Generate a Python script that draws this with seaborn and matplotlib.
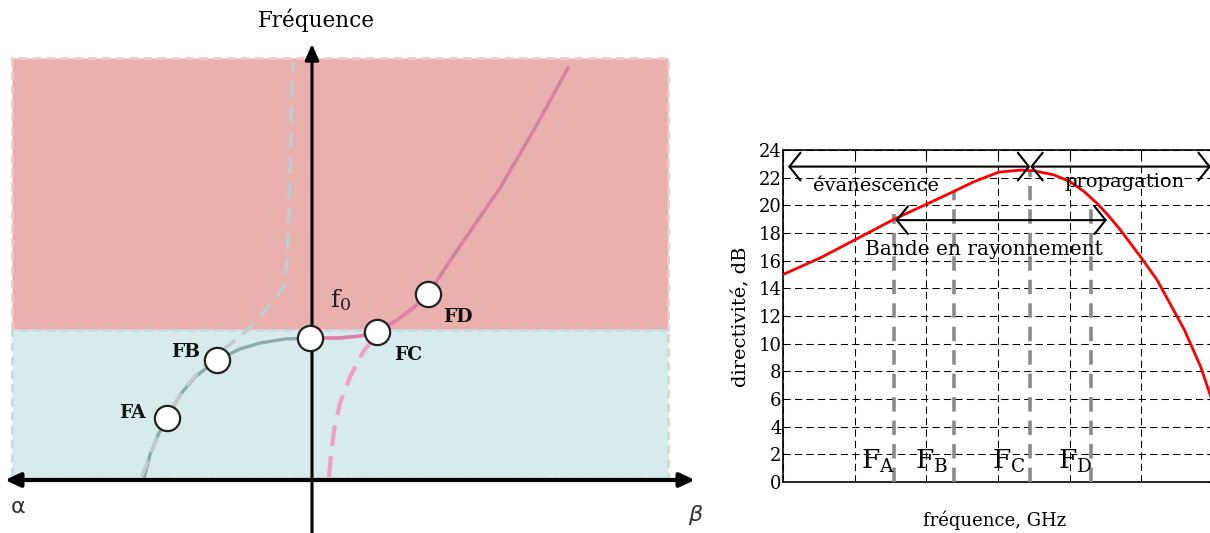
import numpy as np
import pandas as pd
import matplotlib
matplotlib.use("Agg")
import matplotlib.pyplot as plt
from matplotlib.patches import Rectangle
import seaborn as sns

# ---------------- data: dispersion diagram (left) ----------------
# coordinates: horizontal = beta (right) / alpha (left), vertical = frequency
rad_curve_x = [-168, -162, -154, -145, -132, -117, -95, -72, -52, -27, -2]
rad_curve_y = [2, 25, 45, 62, 85, 103, 120, 131, 137, 141, 142]
prop_curve_x = [-2, 28, 48, 65, 85, 101, 116, 148, 188, 223, 256]
prop_curve_y = [142, 142, 144, 148, 160, 172, 186, 234, 292, 352, 412]
alpha_dash_x = [-170, -162, -152, -140, -127, -112, -92, -75, -56, -40, -29, -25, -24, -22, -21, -19]
alpha_dash_y = [4, 25, 48, 72, 92, 110, 128, 141, 158, 178, 192, 218, 243, 300, 360, 418]
beta_dash_x = [17, 19, 22, 28, 38, 51, 63, 78, 93, 106, 118]
beta_dash_y = [3, 25, 50, 77, 103, 128, 143, 154, 164, 176, 188]
point_names = ["FA", "FB", "f0", "FC", "FD"]
point_x = [-145, -95, -2, 65, 116]
point_y = [62, 120, 142, 148, 186]
f0_level = 150
band_top = 422

# ---------------- data: directivity vs frequency (right) ----------------
freq = [0, 0.52, 1.0, 1.57, 2.01, 2.38, 2.66, 3.01, 3.32, 3.5, 3.78, 4.01,
        4.2, 4.39, 4.55, 4.71, 5.0, 5.22, 5.6, 5.83, 5.97]
directivity = [15.0, 16.2, 17.5, 19.05, 20.1, 21.0, 21.7, 22.4, 22.55, 22.5,
               22.2, 21.7, 21.0, 20.1, 19.2, 18.2, 16.2, 14.6, 11.0, 8.3, 6.15]
marker_freqs = [1.546, 2.385, 3.447, 4.294]
marker_tops = [19.4, 21.0, 22.45, 19.8]
marker_labels = ["A", "B", "C", "D"]
marker_label_x = [1.32, 2.07, 3.15, 4.07]
y_ticks = list(range(0, 25, 2))

sns.set_theme(style="white")
plt.rcParams["font.family"] = ["DejaVu Serif"]
plt.rcParams["mathtext.fontset"] = "dejavuserif"
plt.rcParams["text.color"] = "black"
plt.rcParams["xtick.color"] = "black"
plt.rcParams["ytick.color"] = "black"

fig = plt.figure(figsize=(12.1, 5.33), dpi=100)

# ================= left panel =================
axl = fig.add_axes([0, 0, 720 / 1210, 1])
axl.set_xlim(-312, 408)
axl.set_ylim(-53, 480)
axl.axis("off")

pink = "#e9b0ae"
blue = "#d7eaec"
axl.add_patch(Rectangle((-300, f0_level), 656, band_top - f0_level,
                        facecolor=pink, edgecolor="#f3c8cc", lw=2,
                        linestyle=(0, (3, 2)), zorder=1))
axl.add_patch(Rectangle((-300, 2), 656, f0_level - 2,
                        facecolor=blue, edgecolor="#c2dde0", lw=2,
                        linestyle=(0, (3, 2)), zorder=1))

sns.lineplot(x=rad_curve_x, y=rad_curve_y, ax=axl, color="#8cabab", lw=2.4,
             sort=False, estimator=None, zorder=3)
sns.lineplot(x=alpha_dash_x, y=alpha_dash_y, ax=axl, color="#c3cccc", lw=2.6,
             linestyle=(0, (4.5, 2.5)), sort=False, estimator=None, zorder=4)
sns.lineplot(x=beta_dash_x, y=beta_dash_y, ax=axl, color="#f0a0c2", lw=3.0,
             linestyle=(0, (5, 2.5)), sort=False, estimator=None, zorder=3)
sns.lineplot(x=prop_curve_x, y=prop_curve_y, ax=axl, color="#e27ea8", lw=2.6,
             sort=False, estimator=None, zorder=3)
sns.lineplot(x=prop_curve_x[6:], y=prop_curve_y[6:], ax=axl, color="#b98d98",
             lw=1.2, linestyle=(0, (8, 5)), sort=False, estimator=None, zorder=4)

# axes arrows
axl.annotate("", xy=(383, 0), xytext=(-307, 0),
             arrowprops=dict(arrowstyle="<|-|>,head_length=0.75,head_width=0.35",
                             lw=3, color="black", shrinkA=0, shrinkB=0),
             zorder=5)
axl.annotate("", xy=(0, 436), xytext=(0, -53),
             arrowprops=dict(arrowstyle="-|>,head_length=0.8,head_width=0.35",
                             lw=2.2, color="black", shrinkA=0, shrinkB=0),
             zorder=5)

sns.scatterplot(x=point_x, y=point_y, ax=axl, s=330, color="white",
                edgecolor="#222222", linewidth=1.6, zorder=6)

axl.text(4, 460, "Fréquence", fontsize=15.5, ha="center", va="center")
axl.text(29, 180, r"$\mathrm{f}_{0}$", fontsize=18, ha="center", va="center",
         color="#222222")
label_pos = {"FA": (-180, 67), "FB": (-126, 128), "FC": (96, 125), "FD": (146, 163)}
for name in point_names:
    if name in label_pos:
        lx, ly = label_pos[name]
        axl.text(lx, ly, name, fontsize=13.5, fontweight="bold", ha="center",
                 va="center", color="#111111")
axl.text(-294, -27, "α", fontsize=16, ha="center", va="center",
         family="DejaVu Sans", color="#333333")
axl.text(383, -35, "β", fontsize=16, ha="center", va="center",
         family="DejaVu Sans", color="#333333", style="italic")

# ================= right panel =================
axr = fig.add_axes([783 / 1210, 51 / 533, 430 / 1210, 332 / 533])
axr.set_xlim(0, 6)
axr.set_ylim(0, 24)
axr.set_yticks(y_ticks)
axr.set_xticks(range(0, 7))
axr.set_xticklabels([])
axr.grid(True, color="black", linestyle=(0, (7, 4)), lw=0.75)
axr.tick_params(axis="both", direction="in", length=4, width=0.8,
                top=True, right=True, labelsize=13, pad=1, colors="black")
for sp in axr.spines.values():
    sp.set_color("black")
    sp.set_linewidth(1.2)

axr.vlines(marker_freqs, 0, marker_tops, color="#8a8a8a", lw=2.6,
           linestyle=(0, (4, 2.5)), zorder=3)

df = pd.DataFrame({"freq": freq, "directivity": directivity})
sns.lineplot(data=df, x="freq", y="directivity", ax=axr, color="red", lw=2,
             sort=False, estimator=None, zorder=5)
axr.set_xlabel("")
axr.set_ylabel("")

arrow_kw = dict(arrowstyle="<->,head_length=0.4,head_width=0.5", lw=1.5,
                color="black", shrinkA=0, shrinkB=0, mutation_scale=20)
axr.annotate("", xy=(0.07, 22.8), xytext=(3.45, 22.8), arrowprops=arrow_kw, zorder=6)
axr.annotate("", xy=(3.45, 22.8), xytext=(5.97, 22.8), arrowprops=arrow_kw, zorder=6)
axr.annotate("", xy=(1.57, 18.93), xytext=(4.52, 18.93), arrowprops=arrow_kw, zorder=6)

axr.text(1.29, 21.0, "évanescence", fontsize=14, ha="center", va="baseline", zorder=7)
axr.text(4.77, 21.35, "propagation", fontsize=14, ha="center", va="baseline", zorder=7)
axr.text(2.80, 16.4, "Bande en rayonnement", fontsize=14.5, ha="center",
         va="baseline", zorder=7)
for lx, lab in zip(marker_label_x, marker_labels):
    axr.text(lx, 0.96, r"$\mathrm{F}_{\mathrm{%s}}$" % lab, fontsize=19,
             ha="center", va="baseline", zorder=7)

fig.text(995 / 1210, 1 - 520 / 533, "fréquence, GHz", fontsize=13,
         ha="center", va="center")
fig.text(741 / 1210, 1 - 317 / 533, "directivité, dB", fontsize=14,
         ha="center", va="center", rotation=90)

fig.savefig("out.png", dpi=100, facecolor="white")
